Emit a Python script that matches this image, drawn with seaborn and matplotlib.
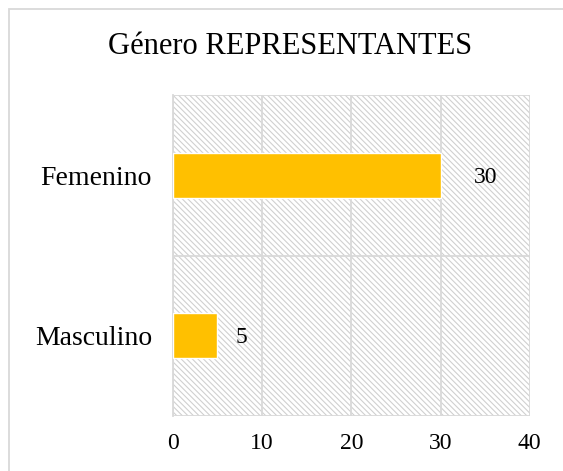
import matplotlib
matplotlib.use("Agg")
import matplotlib.pyplot as plt
from matplotlib.patches import Rectangle
import pandas as pd
import seaborn as sns

# data
categorias = ["Femenino", "Masculino"]
valores = [30, 5]
x_ticks = [0, 10, 20, 30, 40]
titulo = "Género REPRESENTANTES"

df = pd.DataFrame({"Genero": categorias, "Cantidad": valores})

sns.set_style("white")
plt.rcParams["font.family"] = ["Liberation Serif", "DejaVu Serif"]
plt.rcParams["hatch.linewidth"] = 0.8

grid_col = "#d9d9d9"

fig = plt.figure(figsize=(5.63, 4.71), dpi=100)
ax = fig.add_axes([0.307, 0.117, 0.634, 0.681])

# hatched background of the plot area
ax.add_patch(Rectangle((0, 0), 1, 1, transform=ax.transAxes, facecolor="white",
                       edgecolor="#d0d0d0", linewidth=0, hatch="\\" * 6, zorder=0))

sns.barplot(data=df, x="Cantidad", y="Genero", orient="h", color="#FFC000",
            width=0.28, saturation=1, ax=ax, zorder=3)

ax.set_xlim(0, 40)
ax.set_ylim(1.5, -0.5)
ax.set_xticks(x_ticks)
ax.set_xlabel("")
ax.set_ylabel("")

# category boundaries as minor ticks
ax.set_yticks([-0.5, 0.5, 1.5], minor=True)
ax.tick_params(axis="y", which="major", length=0, pad=15, labelsize=20, colors="black")
ax.tick_params(axis="y", which="minor", length=6, width=1.3, color=grid_col)
ax.tick_params(axis="x", length=0, pad=12, labelsize=17, colors="black")

ax.grid(axis="x", which="major", color=grid_col, linewidth=1.3, zorder=1)
ax.grid(axis="y", which="minor", color=grid_col, linewidth=1.3, zorder=1)
ax.set_axisbelow(True)

for s in ["top", "right", "bottom"]:
    ax.spines[s].set_visible(False)
ax.spines["left"].set_color(grid_col)
ax.spines["left"].set_linewidth(1.3)

# value labels
pads = [24, 13]
for bar, v, p in zip(ax.patches[1:], valores, pads):
    ax.annotate(str(v), (bar.get_width(), bar.get_y() + bar.get_height() / 2),
                xytext=(p, -1.5), textcoords="offset points", va="center",
                fontsize=17, color="black")

fig.text(0.515, 1 - 54 / 471, titulo, ha="center", va="baseline", fontsize=22, color="black")

# chart border
fig.patches.append(Rectangle((9 / 563, -0.1), 1.2, 1 - 9 / 471 + 0.1,
                             transform=fig.transFigure, fill=False,
                             edgecolor=grid_col, linewidth=1.3, zorder=-1))

fig.savefig("out.png", dpi=100)
